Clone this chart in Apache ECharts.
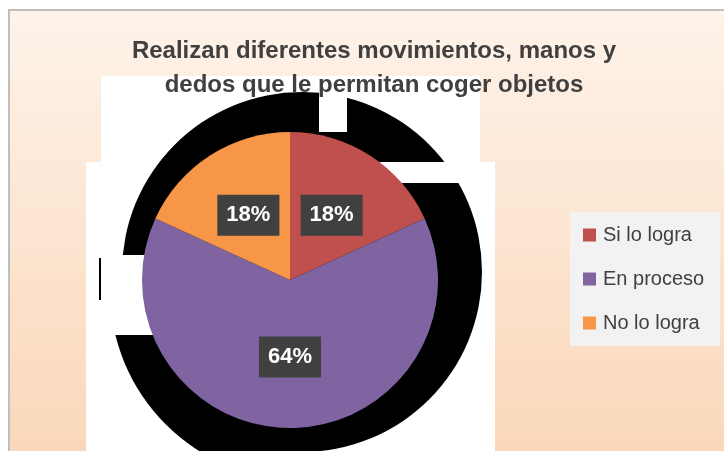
<!DOCTYPE html>
<html>
<head>
    <meta charset="utf-8">
    <title>ECharts</title>
    <script src="https://cdn.jsdelivr.net/npm/echarts@6/dist/echarts.min.js"></script>
    <style>
        html, body { margin: 0; padding: 0; background: #fff; }
    </style>
</head>
<body>
    <div id="main" style="width: 724px;height:451px;"></div>

    <script type="text/javascript">
        // datos de la grafica
        var categorias = ['Si lo logra', 'En proceso', 'No lo logra'];
        var valores = [2, 7, 2];
        var colores = ['#C0504D', '#8064A2', '#F79646'];
        var titulo = 'Realizan diferentes movimientos, manos y\ndedos que le permitan coger objetos';

        var myChart = echarts.init(document.getElementById('main'));

        var datos = [];
        for (var i = 0; i < categorias.length; i++) {
            datos.push({ name: categorias[i], value: valores[i], itemStyle: { color: colores[i] } });
        }

        option = {
            backgroundColor: '#fff',
            animation: false,
            title: {
                text: titulo,
                left: 369,
                top: 29,
                textAlign: 'center',
                textStyle: {
                    fontFamily: 'Liberation Sans',
                    fontWeight: 'bold',
                    fontSize: 24,
                    lineHeight: 34,
                    color: '#404040'
                }
            },
            legend: {
                orient: 'vertical',
                left: 570,
                top: 212,
                padding: [13, 16, 13, 13],
                backgroundColor: '#F2F2F2',
                itemWidth: 13,
                itemHeight: 13,
                itemGap: 24,
                icon: 'rect',
                data: categorias,
                textStyle: {
                    fontFamily: 'Liberation Sans',
                    fontSize: 20,
                    lineHeight: 20,
                    color: '#404040',
                    padding: [0, 0, 0, 2]
                }
            },
            graphic: [
                // fondo degradado con borde
                {
                    type: 'rect', z: 0,
                    shape: { x: 9, y: 10, width: 800, height: 600 },
                    style: {
                        fill: new echarts.graphic.LinearGradient(0, 0, 0, 1, [
                            { offset: 0, color: '#FEF3EA' },
                            { offset: 1, color: '#F9CDA8' }
                        ]),
                        stroke: '#BFBFBF', lineWidth: 2
                    }
                },
                // rectangulos blancos
                { type: 'rect', z: 0, shape: { x: 101, y: 76, width: 379, height: 90 }, style: { fill: '#fff' } },
                { type: 'rect', z: 0, shape: { x: 86, y: 162, width: 409, height: 300 }, style: { fill: '#fff' } },
                // sombra negra
                { type: 'circle', z: 1, shape: { cx: 302, cy: 272, r: 180 }, style: { fill: '#000' } },
                {
                    type: 'sector', z: 1,
                    shape: { cx: 300, cy: 290, r0: 0, r: 190, startAngle: Math.PI / 2, endAngle: Math.PI },
                    style: { fill: '#000' }
                },
                // cortes blancos
                { type: 'rect', z: 1, shape: { x: 319, y: 76, width: 28, height: 56 }, style: { fill: '#fff' } },
                { type: 'rect', z: 1, shape: { x: 370, y: 162, width: 125, height: 21 }, style: { fill: '#fff' } },
                { type: 'rect', z: 1, shape: { x: 86, y: 255, width: 70, height: 80 }, style: { fill: '#fff' } },
                { type: 'rect', z: 1, shape: { x: 99, y: 258, width: 2, height: 42 }, style: { fill: '#000' } }
            ],
            series: [{
                type: 'pie',
                center: [290, 280],
                radius: 148,
                startAngle: 90,
                clockwise: true,
                z: 2,
                data: datos,
                label: {
                    show: true,
                    position: 'inside',
                    formatter: function (p) {
                        return Math.round(p.percent) + '%';
                    },
                    fontFamily: 'Liberation Sans',
                    fontWeight: 'bold',
                    fontSize: 22,
                    lineHeight: 22,
                    color: '#fff',
                    backgroundColor: '#404040',
                    padding: [10, 9, 9, 9]
                },
                labelLine: { show: false },
                itemStyle: { borderWidth: 0 },
                emphasis: { disabled: true }
            }]
        };

        myChart.setOption(option);
    </script>
</body>
</html>
